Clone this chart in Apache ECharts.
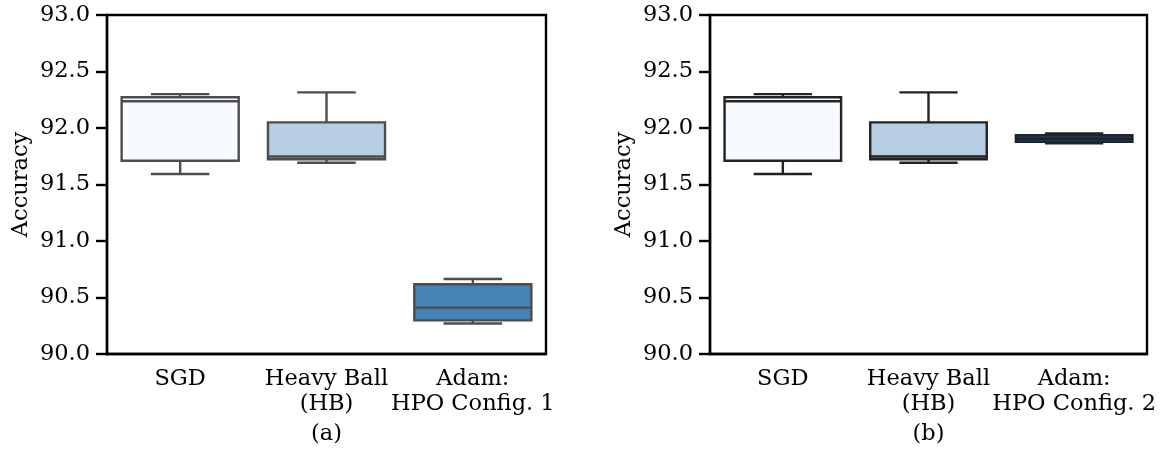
<!DOCTYPE html>
<html>
<head>
<meta charset="utf-8">
<script src="https://cdn.jsdelivr.net/npm/echarts@6/dist/echarts.min.js"></script>
<style>
html,body{margin:0;padding:0;background:#fff;}
#chart{width:1167px;height:451px;}
</style>
</head>
<body>
<div id="chart"></div>
<script>
// ---- data ----
const categoriesA = ['SGD', 'Heavy Ball\n(HB)', 'Adam:\nHPO Config. 1'];
const categoriesB = ['SGD', 'Heavy Ball\n(HB)', 'Adam:\nHPO Config. 2'];
// [min, Q1, median, Q3, max]
const sgdStats   = [91.593, 91.71, 92.237, 92.272, 92.30];
const hbStats    = [91.693, 91.723, 91.748, 92.05, 92.315];
const adam1Stats = [90.27, 90.298, 90.41, 90.617, 90.664];
const adam2Stats = [91.865, 91.877, 91.905, 91.937, 91.952];
const yTicks = ['90.0', '90.5', '91.0', '91.5', '92.0', '92.5', '93.0'];
const panelLabels = ['(a)', '(b)'];
const yName = 'Accuracy';

// ---- styles ----
const FONT = 'DejaVu Serif';
const FS = 22.5;
const fillsA = ['#f7fbff', '#b7cde1', '#4583b6'];
const fillsB = ['#f7fbff', '#b7cde1', '#1c3b70'];
const edgeA = '#4d4d4d';
const edgeB = '#232323';
const LW = 2.4;

function rows(statsList) {
  return statsList.map((s, i) => [i].concat(s));
}

function makeRender(fills, edge) {
  return function (params, api) {
    const x = api.value(0);
    const pMin = api.coord([x, api.value(1)]);
    const pQ1 = api.coord([x, api.value(2)]);
    const pMed = api.coord([x, api.value(3)]);
    const pQ3 = api.coord([x, api.value(4)]);
    const pMax = api.coord([x, api.value(5)]);
    const band = api.size([1, 0])[0];
    const bw = band * 0.8;
    const cx = pMed[0];
    const half = bw / 2;
    const capHalf = bw / 4;
    const ls = { stroke: edge, lineWidth: LW, fill: null };
    return {
      type: 'group',
      children: [
        { type: 'line', shape: { x1: cx, y1: pQ1[1], x2: cx, y2: pMin[1] }, style: ls },
        { type: 'line', shape: { x1: cx, y1: pQ3[1], x2: cx, y2: pMax[1] }, style: ls },
        { type: 'line', shape: { x1: cx - capHalf, y1: pMin[1], x2: cx + capHalf, y2: pMin[1] }, style: ls },
        { type: 'line', shape: { x1: cx - capHalf, y1: pMax[1], x2: cx + capHalf, y2: pMax[1] }, style: ls },
        { type: 'rect', shape: { x: cx - half, y: pQ3[1], width: bw, height: pQ1[1] - pQ3[1] },
          style: { fill: fills[params.dataIndex], stroke: edge, lineWidth: LW } },
        { type: 'line', shape: { x1: cx - half, y1: pMed[1], x2: cx + half, y2: pMed[1] }, style: ls }
      ]
    };
  };
}

const grids = [
  { left: 107, right: 621, top: 15, bottom: 97 },
  { left: 710, right: 20, top: 15, bottom: 97 }
];

function xAxis(idx, cats) {
  return {
    type: 'category', gridIndex: idx, data: cats,
    axisLine: { lineStyle: { color: '#000', width: LW } },
    axisTick: { alignWithLabel: true, length: 11, lineStyle: { color: '#000', width: LW } },
    axisLabel: { color: '#000', fontFamily: FONT, fontSize: FS, margin: 13, lineHeight: 25, interval: 0 },
    splitLine: { show: false }
  };
}
function yAxis(idx) {
  return {
    type: 'value', gridIndex: idx, min: 90, max: 93, interval: 0.5,
    name: yName, nameLocation: 'middle', nameGap: 74,
    nameTextStyle: { color: '#000', fontFamily: FONT, fontSize: FS },
    axisLine: { show: true, lineStyle: { color: '#000', width: LW } },
    axisTick: { show: true, length: 11, lineStyle: { color: '#000', width: LW } },
    axisLabel: { color: '#000', fontFamily: FONT, fontSize: FS, margin: 17,
      formatter: function (v) { return yTicks[Math.round((v - 90) / 0.5)]; } },
    splitLine: { show: false }
  };
}

const chart = echarts.init(document.getElementById('chart'), null, { renderer: 'canvas' });
chart.setOption({
  animation: false,
  backgroundColor: '#fff',
  grid: grids.map(g => Object.assign({ show: true, borderColor: '#000', borderWidth: LW, backgroundColor: 'transparent' }, g)),
  xAxis: [xAxis(0, categoriesA), xAxis(1, categoriesB)],
  yAxis: [yAxis(0), yAxis(1)],
  series: [
    { type: 'custom', xAxisIndex: 0, yAxisIndex: 0, renderItem: makeRender(fillsA, edgeA),
      encode: { x: 0, y: [1, 2, 3, 4, 5] }, data: rows([sgdStats, hbStats, adam1Stats]) },
    { type: 'custom', xAxisIndex: 1, yAxisIndex: 1, renderItem: makeRender(fillsB, edgeB),
      encode: { x: 0, y: [1, 2, 3, 4, 5] }, data: rows([sgdStats, hbStats, adam2Stats]) }
  ],
  graphic: [
    { type: 'text', x: 326.5, y: 434, style: { text: panelLabels[0], align: 'center', verticalAlign: 'middle', fontFamily: FONT, fontSize: FS, fill: '#000' } },
    { type: 'text', x: 928.5, y: 434, style: { text: panelLabels[1], align: 'center', verticalAlign: 'middle', fontFamily: FONT, fontSize: FS, fill: '#000' } }
  ]
});
</script>
</body>
</html>
